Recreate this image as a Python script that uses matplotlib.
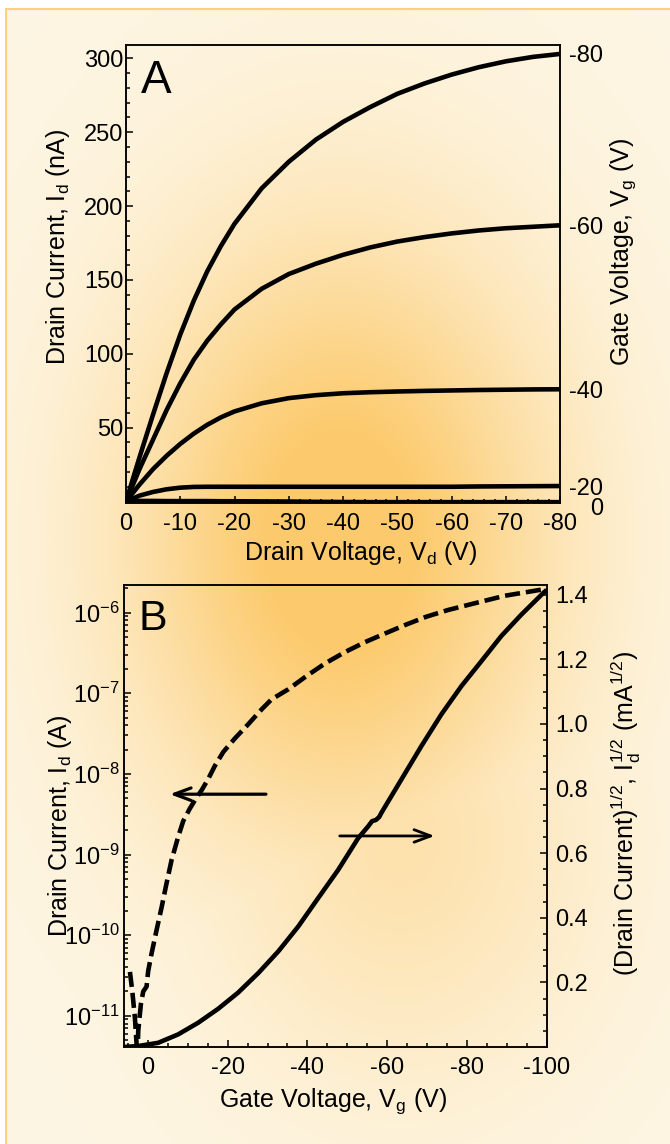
import numpy as np
import matplotlib
matplotlib.use('Agg')
import matplotlib.pyplot as plt
import matplotlib.transforms as mtransforms
from matplotlib.ticker import MultipleLocator, FixedLocator, LogLocator, NullFormatter

plt.rcParams['font.family'] = ['Liberation Sans', 'DejaVu Sans']
plt.rcParams['mathtext.default'] = 'regular'
plt.rcParams['axes.unicode_minus'] = False

# ---- Panel A: output curves, Id (nA) vs Vd (V) for several gate voltages
vd = [0, -2.5, -5, -7.5, -10, -12.5, -15, -17.5, -20, -25, -30, -35, -40,
      -45, -50, -55, -60, -65, -70, -75, -80]
id_vg80 = [0, 30, 59, 87, 113, 136, 156, 173, 188, 212, 230, 245, 257,
           267, 276, 283, 289, 294, 298, 301, 303]
id_vg60 = [0, 22, 42, 62, 80, 96, 109, 120, 130, 144, 154, 161, 167,
           172, 176, 179, 181.5, 183.5, 185, 186, 187]
id_vg40 = [0, 11.5, 22, 31, 39, 46, 52, 57, 61, 66.5, 70, 72, 73.3,
           74, 74.5, 74.9, 75.2, 75.5, 75.7, 75.9, 76]
id_vg20 = [0, 4, 6.5, 8.3, 9.4, 9.9, 10, 10, 10, 10, 10, 10, 10,
           10, 10, 10, 10, 10.2, 10.3, 10.4, 10.5]
id_vg0 = [0.4, 0.4, 0.4, 0.3, 0.3, 0.3, 0.3, 0.2, 0.2, 0.1, 0.0, -0.2, -0.3,
          -0.4, -0.4, -0.4, -0.4, -0.4, -0.4, -0.4, -0.4]
curves_a = [id_vg80, id_vg60, id_vg40, id_vg20, id_vg0]
vg_labels = ['-80', '-60', '-40', '-20', '0']
ya_ticks = [50, 100, 150, 200, 250, 300]

# ---- Panel B: transfer curve (log Id, left axis)
vg_log = [4.5, 3.9, 3.26, 2.84, 2.6, 2.42, 1.75, 1.17, 0.33, -0.08, -0.92, -2.17,
          -3.43, -4.68, -5.93, -7.6, -8.86, -10.5, -12.0, -13.5, -15.1, -16.8, -18.9,
          -21.8, -25.1, -28.5, -31.0, -35.2, -39.8, -44.4, -49.4, -54.4, -59.4,
          -64.4, -69.8, -75.3, -82.8, -89.5, -98.7]
id_log = [3.5e-11, 2.0e-11, 9.5e-12, 4.5e-12, 3.0e-12, 6.5e-12, 1.4e-11, 2.0e-11,
          2.3e-11, 3.6e-11, 5.9e-11, 1.15e-10, 2.2e-10, 4.4e-10, 8.5e-10, 1.66e-9,
          2.6e-9, 3.7e-9, 4.9e-9, 6.3e-9, 8.6e-9, 1.26e-8, 1.87e-8, 2.75e-8, 4.1e-8,
          6.3e-8, 8.4e-8, 1.12e-7, 1.64e-7, 2.34e-7, 3.24e-7, 4.3e-7, 5.5e-7,
          7.0e-7, 8.9e-7, 1.08e-6, 1.34e-6, 1.62e-6, 1.93e-6]
# sqrt(Id), right axis
vg_sqrt = [6, 2.4, -2.6, -7.6, -12.6, -17.6, -22.6, -27.7, -32.7, -37.7, -42.7,
           -47.7, -52.7, -55.3, -56.2, -57.2, -58.0, -58.6, -63.6, -68.6, -73.6,
           -78.6, -83.6, -88.6, -93.6, -99.1, -100]
id_sqrt = [0, 0.003, 0.013, 0.039, 0.075, 0.118, 0.168, 0.229, 0.296, 0.373, 0.461,
           0.548, 0.646, 0.684, 0.699, 0.703, 0.712, 0.726, 0.829, 0.932, 1.03,
           1.117, 1.194, 1.272, 1.338, 1.405, 1.415]
yb_right_ticks = [0.2, 0.4, 0.6, 0.8, 1.0, 1.2, 1.4]

LW = 3.3
TICK_FS = 17
LABEL_FS = 18

fig = plt.figure(figsize=(6.7, 11.44), dpi=100)

# background: cream with a soft orange glow
h, w = 1144, 670
yy, xx = np.mgrid[0:h, 0:w]
glow = 1.12 * np.exp(-0.5 * (((xx - 340) / 150.0) ** 2 + ((yy - 540) / 215.0) ** 2))
glow = np.maximum(glow, 0.45 * np.exp(-0.5 * (((xx - 400) / 140.0) ** 2 + ((yy - 840) / 170.0) ** 2)))
glow = np.clip(glow, 0, 1)
cream = np.array([254, 246, 228]) / 255.0
orange = np.array([252, 202, 108]) / 255.0
img = cream + glow[..., None] * (orange - cream)
img[:9, :] = 1
img[:, :6] = 1
fig.figimage(img, 0, 0, origin='upper', zorder=-10)
fig.add_artist(plt.Line2D([6 / w, 1], [1 - 9 / h, 1 - 9 / h], transform=fig.transFigure,
                          color='#FFD27A', lw=1.5, zorder=-5))
fig.add_artist(plt.Line2D([6 / w, 6 / w], [0, 1 - 9 / h], transform=fig.transFigure,
                          color='#FFD27A', lw=1.5, zorder=-5))


def style_axes(ax):
    ax.set_facecolor('none')
    for s in ax.spines.values():
        s.set_linewidth(1.1)


# ---------------- Panel A
axA = fig.add_axes([0.188, 0.5603, 0.648, 0.4003])
style_axes(axA)
for c in curves_a:
    axA.plot(vd, c, color='black', lw=LW, solid_capstyle='butt')
axA.set_xlim(0, -80)
axA.set_ylim(-1, 309)
axA.xaxis.set_major_locator(MultipleLocator(10))
axA.xaxis.set_minor_locator(MultipleLocator(2))
axA.yaxis.set_major_locator(FixedLocator(ya_ticks))
axA.yaxis.set_minor_locator(MultipleLocator(10))
axA.tick_params(which='both', direction='in', top=False, right=False, width=1.1)
axA.tick_params(which='major', length=5, labelsize=TICK_FS)
axA.tick_params(which='minor', length=3)
axA.tick_params(axis='x', pad=7)
axA.tick_params(axis='y', pad=2)
axA.set_xlabel('Drain Voltage, V$_d$ (V)', fontsize=LABEL_FS)
axA.set_ylabel('Drain Current, I$_d$ (nA)', fontsize=LABEL_FS)
axA.xaxis.set_label_coords(0.541, -0.109)
axA.xaxis.label.set_va('center')
axA.yaxis.set_label_coords(-0.157, 0.559)
axA.yaxis.label.set_va('center')
axA.text(0.035, 0.895, 'A', transform=axA.transAxes, fontsize=33, va='baseline')

axA2 = axA.twinx()
style_axes(axA2)
axA2.set_ylim(-1, 309)
axA2.set_yticks([c[-1] for c in curves_a])
axA2.set_yticklabels(vg_labels)
axA2.tick_params(axis='y', length=0, labelsize=TICK_FS, pad=31)
for lab in axA2.get_yticklabels():
    lab.set_ha('right')
# nudge the "0" label down a bit, as in the original
lab0 = axA2.get_yticklabels()[-1]
lab0.set_transform(lab0.get_transform() + mtransforms.ScaledTranslation(0, -3 / 72, fig.dpi_scale_trans))
axA2.set_ylabel('Gate Voltage, V$_g$ (V)', fontsize=LABEL_FS, rotation=90)
axA2.yaxis.set_label_coords(1.145, 0.548)
axA2.yaxis.label.set_va('center')

# ---------------- Panel B
axB = fig.add_axes([0.185, 0.0848, 0.631, 0.4038])
style_axes(axB)
axB.set_yscale('log')
axB.plot(vg_log, id_log, color='black', lw=LW, linestyle=(0, (3.3, 1.3)))
axB.set_xlim(6, -100)
axB.set_ylim(4.1e-12, 2.2e-6)
axB.xaxis.set_major_locator(MultipleLocator(20))
axB.xaxis.set_minor_locator(MultipleLocator(5))
axB.yaxis.set_major_locator(LogLocator(base=10))
axB.yaxis.set_minor_locator(LogLocator(base=10, subs=np.arange(2, 10)))
axB.yaxis.set_minor_formatter(NullFormatter())
axB.tick_params(which='both', direction='in', top=False, right=False, width=1.1)
axB.tick_params(which='major', length=5, labelsize=TICK_FS)
axB.tick_params(which='minor', length=3)
axB.tick_params(axis='x', pad=7)
axB.tick_params(axis='y', pad=3)
axB.set_xlabel('Gate Voltage, V$_g$ (V)', fontsize=LABEL_FS)
axB.set_ylabel('Drain Current, I$_d$ (A)', fontsize=LABEL_FS)
axB.xaxis.set_label_coords(0.494, -0.117)
axB.xaxis.label.set_va('center')
axB.yaxis.set_label_coords(-0.151, 0.478)
axB.yaxis.label.set_va('center')
axB.text(0.035, 0.903, 'B', transform=axB.transAxes, fontsize=31, va='baseline')

axB.annotate('', xy=(-5.5, 5.6e-9), xytext=(-29.6, 5.6e-9),
             arrowprops=dict(arrowstyle='->,head_length=1.2,head_width=0.45',
                             lw=2.3, color='black', shrinkA=0, shrinkB=0))
axB.annotate('', xy=(-71.9, 1.7e-9), xytext=(-48.1, 1.7e-9),
             arrowprops=dict(arrowstyle='->,head_length=1.2,head_width=0.45',
                             lw=2.0, color='black', shrinkA=0, shrinkB=0))

axB2 = axB.twinx()
style_axes(axB2)
axB2.plot(vg_sqrt, id_sqrt, color='black', lw=LW, solid_capstyle='butt')
axB2.set_ylim(0, 1.43)
axB2.yaxis.set_major_locator(FixedLocator(yb_right_ticks))
axB2.set_yticklabels(['%.1f' % v for v in yb_right_ticks])
axB2.yaxis.set_minor_locator(MultipleLocator(0.05))
axB2.tick_params(which='both', direction='in', width=1.1)
axB2.tick_params(which='major', length=5, labelsize=TICK_FS, pad=6)
axB2.tick_params(which='minor', length=3)
axB2.set_ylabel('(Drain Current)$^{1/2}$, I$_d^{1/2}$ (mA$^{1/2}$)', fontsize=LABEL_FS, rotation=90)
axB2.yaxis.set_label_coords(1.187, 0.506)
axB2.yaxis.label.set_va('center')

fig.savefig('out.png', dpi=100)
